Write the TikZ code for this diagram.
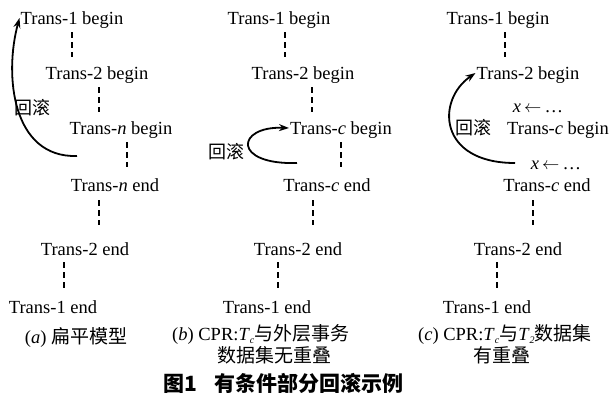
\documentclass[tikz,border=0pt]{standalone}
\usepackage{fontspec}
\setmainfont{Liberation Serif}
\newfontfamily\cjk{Noto Sans CJK SC}
\usetikzlibrary{arrows.meta}
\newcommand{\subc}[1]{\raisebox{-0.4ex}{\fontsize{10}{10}\selectfont\textit{#1}}}
\begin{document}
\begin{tikzpicture}[x=1pt,y=-1pt,
  lbl/.style={inner sep=0pt, text height=12pt, text depth=0pt, font=\fontsize{18.5}{20}\selectfont},
  cj/.style={inner sep=0pt, font=\fontsize{18}{20}\selectfont\cjk},
  capcj/.style={inner sep=0pt, font=\fontsize{19}{20}\selectfont\cjk},
  captxt/.style={inner sep=0pt, font=\fontsize{18.5}{20}\selectfont},
  dl/.style={line width=1.7pt, dash pattern=on 6pt off 4pt},
  rb/.style={line width=1.8pt, -{Stealth[length=10pt,width=7pt]}}]
\useasboundingbox[fill=white] (0,0) rectangle (610,397);

% ---------- panel a ----------
\node[lbl] (a1) at (72,18)  {Trans-1 begin};
\node[lbl] (a2) at (97,73)  {Trans-2 begin};
\node[lbl] (a3) at (121,128) {Trans-\textit{n} begin};
\node[lbl] (a4) at (115,185) {Trans-\textit{n} end};
\node[lbl] (a5) at (85,249) {Trans-2 end};
\node[lbl] (a6) at (53,307) {Trans-1 end};
\draw[dl] (a1.center) ++(0,14) -- ++(0,25);
\draw[dl] (a2.center) ++(2,14) -- ++(0,25);
\draw[dl] (a3.center) ++(6,14) -- ++(0,25);
\draw[dl] (a4.center) ++(-16,15) -- ++(0,25);
\draw[dl] (a5.center) ++(-21,13) -- ++(0,26);
\coordinate (as) at (77,156);
\draw[rb] (as) .. controls (12,158) and (4,75) .. ([xshift=-1pt]a1.west);
\node[cj] (ar) at (32,108) {回滚};
\node[captxt] (ca) at (76,337) {(\textit{a}) {\fontsize{19}{20}\selectfont\cjk 扁平模型}};

% ---------- panel b ----------
\node[lbl] (b1) at (279,18)  {Trans-1 begin};
\node[lbl] (b2) at (303,73)  {Trans-2 begin};
\node[lbl] (b3) at (341,128) {Trans-\textit{c} begin};
\node[lbl] (b4) at (327,185) {Trans-\textit{c} end};
\node[lbl] (b5) at (298,249) {Trans-2 end};
\node[lbl] (b6) at (267,307) {Trans-1 end};
\draw[dl] (b1.center) ++(6,14) -- ++(0,25);
\draw[dl] (b2.center) ++(9,14) -- ++(0,25);
\draw[dl] (b3.center) ++(0,14) -- ++(0,25);
\draw[dl] (b4.center) ++(-14,15) -- ++(0,25);
\draw[dl] (b5.center) ++(-20,13) -- ++(0,26);
\coordinate (bs) at (297,163);
\draw[rb] (bs) .. controls (232,165) and (236,126) .. ([xshift=-1pt]b3.west);
\node[cj] (br) at (226,152) {回滚};
\node[captxt, anchor=west] (cb1) at (172,334) {(\textit{b}) CPR:\textit{T}\subc{c}{\fontsize{19}{20}\selectfont\cjk 与外层事务}};
\node[capcj] (cb2) at (274,355) {数据集无重叠};

% ---------- panel c ----------
\node[lbl] (c1) at (498,18)  {Trans-1 begin};
\node[lbl] (c2) at (528,73)  {Trans-2 begin};
\node[lbl] (cx1) at (538,106) {\textit{x}\,$\leftarrow$\,\dots};
\node[lbl] (c3) at (558,128) {Trans-\textit{c} begin};
\node[lbl] (cx2) at (556,163) {\textit{x}\,$\leftarrow$\,\dots};
\node[lbl] (c4) at (547,185) {Trans-\textit{c} end};
\node[lbl] (c5) at (518,249) {Trans-2 end};
\node[lbl] (c6) at (487,307) {Trans-1 end};
\draw[dl] (c1.center) ++(7,14) -- ++(0,25);
\draw[dl] (c4.center) ++(-14,15) -- ++(0,25);
\draw[dl] (c5.center) ++(-21,13) -- ++(0,26);
\coordinate (cs) at (515,163);
\draw[rb] (cs) .. controls (438,163) and (436,100) .. ([xshift=-1pt]c2.west);
\node[cj] (cr) at (473,128) {回滚};
\node[captxt, anchor=west] (cc1) at (418,334) {(\textit{c}) CPR:\textit{T}\subc{c}{\fontsize{19}{20}\selectfont\cjk 与}\textit{T}\subc{2}{\fontsize{19}{20}\selectfont\cjk 数据集}};
\node[capcj] (cc2) at (502,355) {有重叠};

% ---------- title ----------
\node[inner sep=0pt, anchor=west, font=\fontsize{21}{23}\selectfont\cjk\bfseries] (tt) at (163,383) {图1\hspace{18pt}有条件部分回滚示例};
\end{tikzpicture}
\end{document}
